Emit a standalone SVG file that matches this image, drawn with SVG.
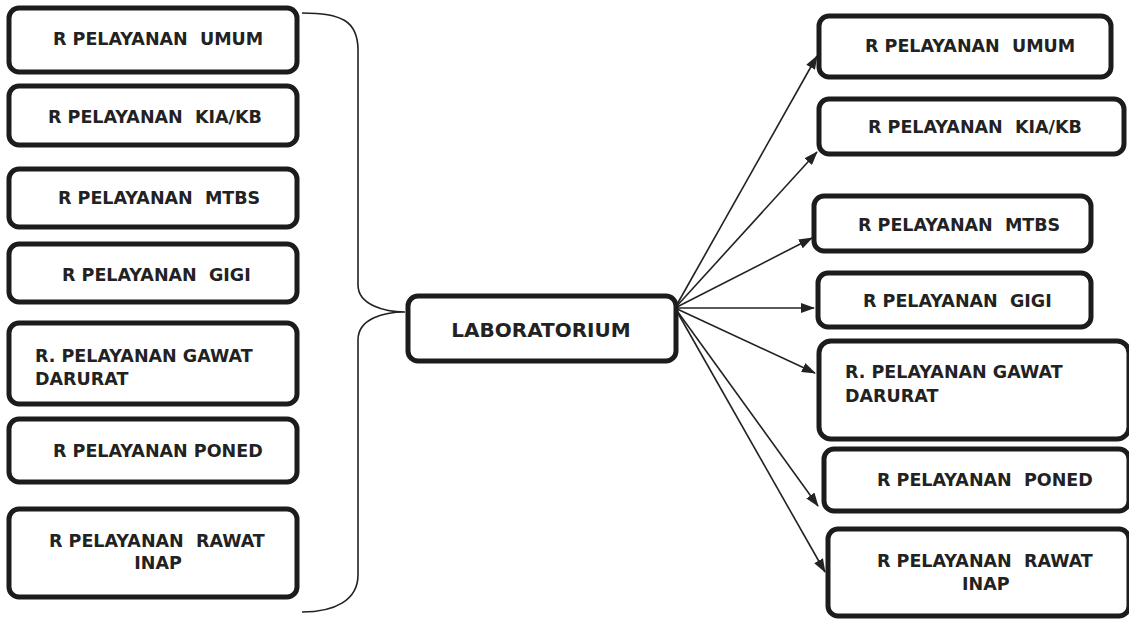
<svg xmlns="http://www.w3.org/2000/svg" width="1129" height="619" viewBox="0 0 1129 619">
<style>
.box{fill:#fff;stroke:#1c1c1c;stroke-width:5}
.t{font-family:"DejaVu Sans","Verdana",sans-serif;font-weight:bold;font-size:17.5px;fill:#222;white-space:pre}
.big{font-size:20px}
.c{fill:none;stroke:#222;stroke-width:1.6}
</style>
<defs>
<marker id="ah" markerWidth="14" markerHeight="10" refX="13" refY="5" orient="auto" markerUnits="userSpaceOnUse">
<path d="M0,0 L14,5 L0,10 Z" fill="#222"/>
</marker>
</defs>
<rect width="1129" height="619" fill="#fff"/>
<g id="connectors">
<path class="c" d="M302,13 C340,13 358,20 358,50 L358,285 C358,305 385,312 405,312 C385,312 358,318 358,340 L358,575 C358,600 335,612 302,612"/>
<line class="c" x1="675" y1="308" x2="817" y2="56" marker-end="url(#ah)"/>
<line class="c" x1="675" y1="308" x2="817" y2="152" marker-end="url(#ah)"/>
<line class="c" x1="675" y1="308" x2="812" y2="238" marker-end="url(#ah)"/>
<line class="c" x1="675" y1="308" x2="814" y2="308" marker-end="url(#ah)"/>
<line class="c" x1="675" y1="308" x2="815" y2="373" marker-end="url(#ah)"/>
<line class="c" x1="675" y1="308" x2="818" y2="506" marker-end="url(#ah)"/>
<line class="c" x1="675" y1="308" x2="825" y2="572" marker-end="url(#ah)"/>
</g>
<g id="left-umum"><rect class="box" x="9" y="8" width="288" height="64" rx="10"/><text class="t" x="53" y="45">R PELAYANAN  UMUM</text></g>
<g id="left-kia"><rect class="box" x="9" y="86" width="288" height="59" rx="10"/><text class="t" x="48" y="123">R PELAYANAN  KIA/KB</text></g>
<g id="left-mtbs"><rect class="box" x="9" y="169" width="288" height="58" rx="10"/><text class="t" x="58" y="204">R PELAYANAN  MTBS</text></g>
<g id="left-gigi"><rect class="box" x="9" y="244" width="288" height="58" rx="10"/><text class="t" x="62" y="281">R PELAYANAN  GIGI</text></g>
<g id="left-gawat"><rect class="box" x="9" y="323" width="288" height="81" rx="10"/><text class="t" x="35" y="362">R. PELAYANAN GAWAT</text><text class="t" x="35" y="385">DARURAT</text></g>
<g id="left-poned"><rect class="box" x="9" y="419" width="288" height="63" rx="10"/><text class="t" x="53" y="457">R PELAYANAN PONED</text></g>
<g id="left-rawat"><rect class="box" x="9" y="509" width="288" height="88" rx="10"/><text class="t" x="49" y="547">R PELAYANAN  RAWAT</text><text class="t" x="158" y="569" text-anchor="middle">INAP</text></g>
<g id="laboratorium"><rect class="box" x="408" y="296" width="268" height="65" rx="10"/><text class="t big" x="541" y="337" text-anchor="middle">LABORATORIUM</text></g>
<g id="right-umum"><rect class="box" x="819" y="16" width="292" height="61" rx="10"/><text class="t" x="865" y="52">R PELAYANAN  UMUM</text></g>
<g id="right-kia"><rect class="box" x="819" y="99" width="305" height="55" rx="10"/><text class="t" x="868" y="133">R PELAYANAN  KIA/KB</text></g>
<g id="right-mtbs"><rect class="box" x="814" y="196" width="277" height="55" rx="10"/><text class="t" x="858" y="231">R PELAYANAN  MTBS</text></g>
<g id="right-gigi"><rect class="box" x="818" y="273" width="273" height="54" rx="10"/><text class="t" x="863" y="307">R PELAYANAN  GIGI</text></g>
<g id="right-gawat"><rect class="box" x="819" y="341" width="310" height="98" rx="12"/><text class="t" x="845" y="378">R. PELAYANAN GAWAT</text><text class="t" x="845" y="402">DARURAT</text></g>
<g id="right-poned"><rect class="box" x="824" y="449" width="305" height="62" rx="10"/><text class="t" x="877" y="486">R PELAYANAN  PONED</text></g>
<g id="right-rawat"><rect class="box" x="828" y="529" width="301" height="87" rx="10"/><text class="t" x="877" y="567">R PELAYANAN  RAWAT</text><text class="t" x="962" y="590">INAP</text></g>
</svg>
